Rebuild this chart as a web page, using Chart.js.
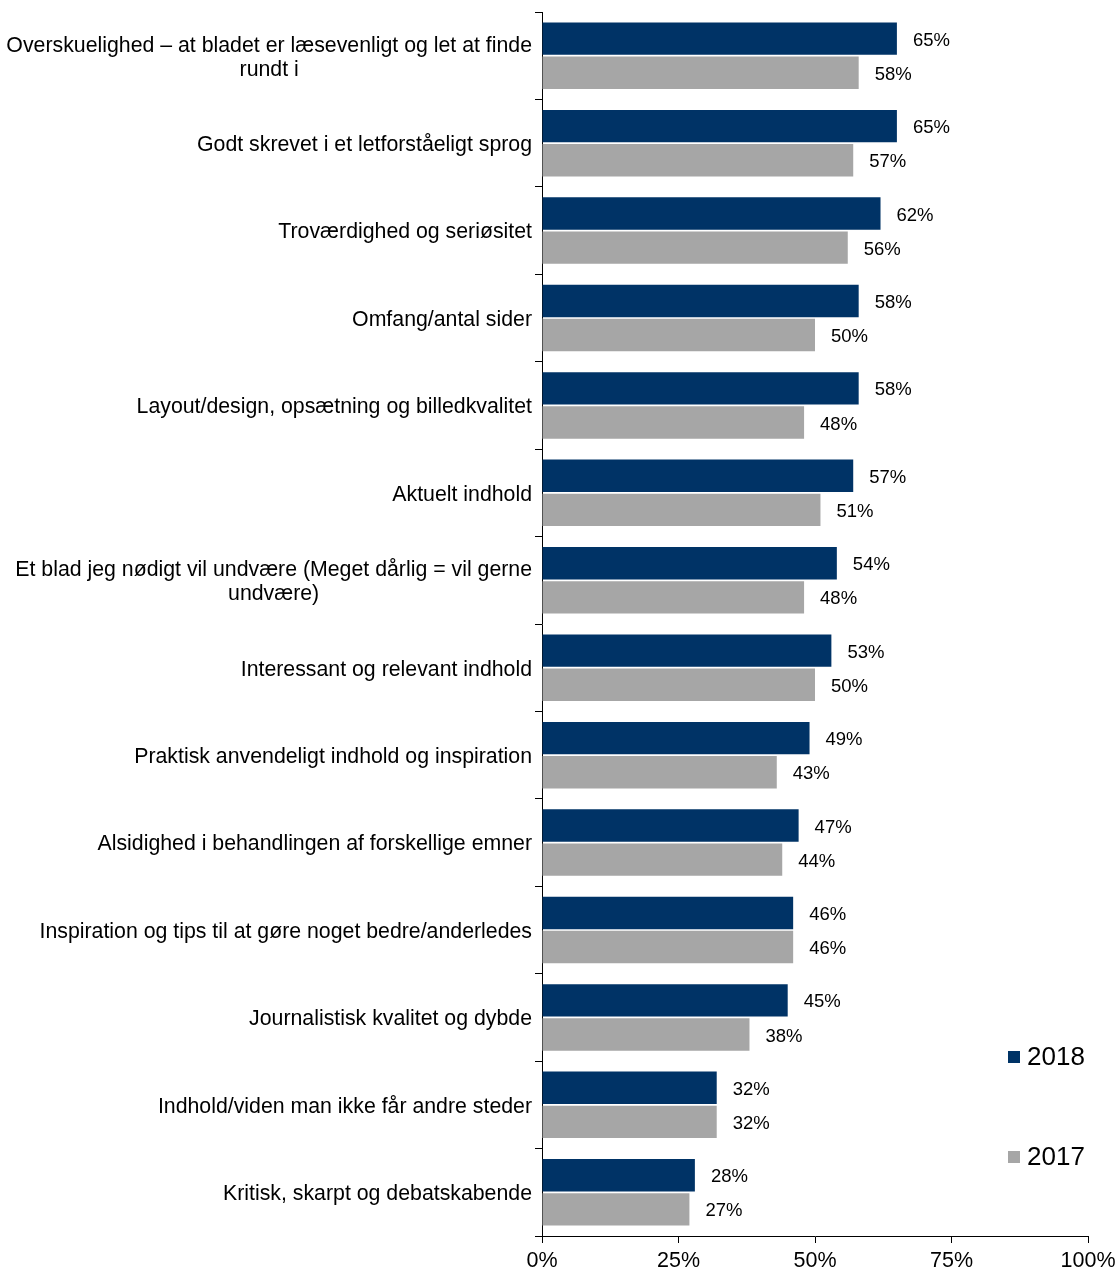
<!DOCTYPE html>
<html>
<head>
<meta charset="utf-8">
<script src="https://cdn.jsdelivr.net/npm/chart.js@4/dist/chart.umd.min.js"></script>
<style>
html,body{margin:0;padding:0;background:#fff;}
#wrap{width:1118px;height:1271px;position:relative;}
</style>
</head>
<body>
<div id="wrap"><canvas id="c"></canvas></div>
<script>
const categories = [
  ["Overskuelighed – at bladet er læsevenligt og let at finde", "rundt i"],
  ["Godt skrevet i et letforståeligt sprog"],
  ["Troværdighed og seriøsitet"],
  ["Omfang/antal sider"],
  ["Layout/design, opsætning og billedkvalitet"],
  ["Aktuelt indhold"],
  ["Et blad jeg nødigt vil undvære (Meget dårlig = vil gerne", "undvære)"],
  ["Interessant og relevant indhold"],
  ["Praktisk anvendeligt indhold og inspiration"],
  ["Alsidighed i behandlingen af forskellige emner"],
  ["Inspiration og tips til at gøre noget bedre/anderledes"],
  ["Journalistisk kvalitet og dybde"],
  ["Indhold/viden man ikke får andre steder"],
  ["Kritisk, skarpt og debatskabende"]
];
const values2018 = [65, 65, 62, 58, 58, 57, 54, 53, 49, 47, 46, 45, 32, 28];
const values2017 = [58, 57, 56, 50, 48, 51, 48, 50, 43, 44, 46, 38, 32, 27];
const seriesNames = ["2018", "2017"];
const xTicks = [0, 25, 50, 75, 100];

const FONT = '"Liberation Sans", Arial, sans-serif';

const labelsPlugin = {
  id: 'customLabels',
  afterDraw(chart) {
    const ctx = chart.ctx;
    const ys = chart.scales.y;
    const ca = chart.chartArea;
    ctx.save();
    // category labels (block right-aligned, lines centered)
    ctx.font = '21.3px ' + FONT;
    ctx.fillStyle = '#000';
    ctx.textBaseline = 'middle';
    ctx.textAlign = 'center';
    const lh = 24;
    chart.data.labels.forEach((lines, i) => {
      const cy = ys.getPixelForValue(i) + 2;
      let maxW = 0;
      lines.forEach(l => { maxW = Math.max(maxW, ctx.measureText(l).width); });
      const cx = ca.left - 10 - maxW / 2;
      const y0 = cy - (lines.length - 1) * lh / 2;
      lines.forEach((l, k) => ctx.fillText(l, cx, y0 + k * lh));
    });
    // value labels
    ctx.font = '18.5px ' + FONT;
    ctx.textAlign = 'left';
    chart.data.datasets.forEach((ds, di) => {
      const meta = chart.getDatasetMeta(di);
      meta.data.forEach((el, i) => {
        ctx.fillText(ds.data[i] + '%', el.x + 16, el.y + 2);
      });
    });
    // legend
    chart.data.datasets.forEach((ds, di) => {
      const y = ca.bottom - 179 + di * 100;
      ctx.fillStyle = ds.backgroundColor;
      ctx.fillRect(ca.right - 80, y - 6, 12, 12);
      ctx.fillStyle = '#000';
      ctx.font = '26px ' + FONT;
      ctx.textAlign = 'left';
      ctx.fillText(ds.label, ca.right - 61, y + 1);
    });
    // small extension of x axis line to the left
    ctx.strokeStyle = '#000';
    ctx.lineWidth = 1;
    ctx.beginPath();
    ctx.moveTo(ca.left - 7, Math.round(ca.bottom) + 0.5);
    ctx.lineTo(ca.left, Math.round(ca.bottom) + 0.5);
    ctx.stroke();
    ctx.restore();
  }
};

new Chart(document.getElementById('c'), {
  type: 'bar',
  data: {
    labels: categories,
    datasets: [
      { label: seriesNames[0], data: values2018, backgroundColor: '#003366', categoryPercentage: 0.78, barPercentage: 0.95 },
      { label: seriesNames[1], data: values2017, backgroundColor: '#a6a6a6', categoryPercentage: 0.78, barPercentage: 0.95 }
    ]
  },
  options: {
    indexAxis: 'y',
    responsive: true,
    maintainAspectRatio: false,
    animation: false,
    devicePixelRatio: 1,
    layout: { padding: { top: 12, right: 30, left: 0, bottom: 0 } },
    plugins: { legend: { display: false }, tooltip: { enabled: false } },
    scales: {
      x: {
        min: 0, max: 100,
        afterBuildTicks(scale) { scale.ticks = xTicks.map(v => ({ value: v })); },
        afterFit(scale) { scale.height = 35; scale.paddingRight = 0; scale.paddingLeft = 0; },
        grid: { drawOnChartArea: false, drawTicks: true, tickLength: 7, color: '#000' },
        border: { display: true, color: '#000', width: 1 },
        ticks: {
          color: '#000', padding: 5, maxRotation: 0,
          font: { size: 21.5, family: FONT },
          callback: v => v + '%'
        }
      },
      y: {
        afterFit(scale) { scale.width = 542; scale.paddingTop = 0; scale.paddingBottom = 0; },
        grid: { drawOnChartArea: false, drawTicks: true, tickLength: 7, color: '#000', offset: true },
        border: { display: true, color: '#000', width: 1 },
        ticks: { display: false }
      }
    }
  },
  plugins: [labelsPlugin]
});
</script>
</body>
</html>
